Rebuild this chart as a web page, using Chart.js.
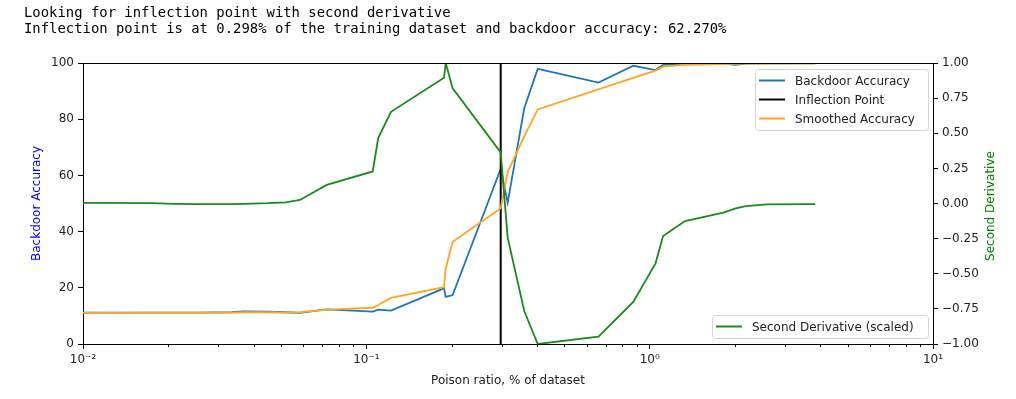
<!DOCTYPE html>
<html>
<head>
<meta charset="utf-8">
<script src="https://cdn.jsdelivr.net/npm/chart.js@4/dist/chart.umd.min.js"></script>
<style>
  body { margin: 0; background: #fff; }
  #wrap { position: relative; width: 1016px; height: 399px; }
  #log { position: absolute; left: 24px; top: 4px; margin: 0; font: 13.9px/16px 'DejaVu Sans Mono', monospace; color: #000; white-space: pre; }
  #chart { position: absolute; left: 0; top: 0; }
</style>
</head>
<body>
<div id="wrap">
  <canvas id="chart" width="1016" height="399"></canvas>
  <pre id="log">Looking for inflection point with second derivative
Inflection point is at 0.298% of the training dataset and backdoor accuracy: 62.270%</pre>
</div>
<script>
const poisonRatio = [0.01, 0.0125, 0.0175, 0.021, 0.025, 0.0335, 0.037, 0.045, 0.052, 0.0583, 0.0725, 0.1053, 0.1102, 0.1222, 0.188, 0.1906, 0.2017, 0.298, 0.3154, 0.3609, 0.4026, 0.6597, 0.8753, 1.049, 1.115, 1.333, 1.819, 2.012, 2.182, 2.588, 3.842];
const backdoorAcc = [11.2, 11.2, 11.2, 11.2, 11.2, 11.3, 11.6, 11.5, 11.3, 11.1, 12.3, 11.5, 12.2, 11.9, 19.8, 16.8, 17.4, 62.27, 50.3, 83.9, 97.9, 93.0, 99.0, 97.5, 99.3, 99.8, 99.8, 99.3, 99.8, 99.9, 99.9];
const smoothedAcc = [11.2, 11.1, 11.2, 11.2, 11.2, 11.2, 11.3, 11.3, 11.2, 11.3, 12.2, 12.9, 13.9, 16.4, 20.2, 26.8, 36.4, 48.3, 61.2, 73.9, 83.5, 90.6, 94.7, 97.3, 98.7, 99.3, 99.6, 99.7, 99.75, 99.8, 99.9];
const secondDeriv = [0.005, 0.004, 0.002, -0.002, -0.004, -0.004, -0.002, 0.002, 0.008, 0.025, 0.132, 0.228, 0.468, 0.653, 0.895, 1.0, 0.82, 0.364, -0.243, -0.765, -1.0, -0.948, -0.70, -0.426, -0.231, -0.125, -0.065, -0.034, -0.018, -0.006, -0.004];
const inflectionX = 0.298;
const accRange = [0, 100];
const xTickValues = [0.01, 0.1, 1, 10];
const xTickLabels = ['10\u207B\u00B2', '10\u207B\u00B9', '10\u2070', '10\u00B9'];

const FONT = 'DejaVu Sans';
const pts = ys => poisonRatio.map((x, i) => ({ x: x, y: ys[i] }));

// matplotlib-style frame, minor log ticks, right axis title and the two legends
const extras = {
  id: 'extras',
  afterDraw(chart) {
    const c = chart.ctx, a = chart.chartArea, xs = chart.scales.x;
    c.save();
    c.strokeStyle = '#000';
    c.lineWidth = 1;
    c.beginPath();
    c.moveTo(a.left, a.top + 0.5);
    c.lineTo(a.right, a.top + 0.5);
    c.stroke();
    for (let n = -2; n < 1; n++) {
      for (let k = 2; k < 10; k++) {
        const px = Math.round(xs.getPixelForValue(k * Math.pow(10, n))) + 0.5;
        c.beginPath();
        c.moveTo(px, a.bottom);
        c.lineTo(px, a.bottom + 3);
        c.stroke();
      }
    }
    c.translate(991, 206);
    c.rotate(-Math.PI / 2);
    c.fillStyle = 'green';
    c.font = '12px ' + FONT;
    c.textAlign = 'center';
    c.textBaseline = 'middle';
    c.fillText('Second Derivative', 0, 0);
    c.restore();

    const ds = chart.data.datasets;
    drawLegend(c, 755, 69, 173, 61, [ds[0], ds[1], ds[2]]);
    drawLegend(c, 712, 315, 216, 23, [ds[3]]);
  }
};

function drawLegend(c, x, y, w, h, items) {
  c.save();
  c.fillStyle = 'rgba(255,255,255,0.8)';
  c.strokeStyle = '#d5d5d5';
  c.lineWidth = 1;
  c.beginPath();
  c.roundRect(x + 0.5, y + 0.5, w, h, 3);
  c.fill();
  c.stroke();
  c.font = '12px ' + FONT;
  c.textBaseline = 'middle';
  items.forEach((d, i) => {
    const cy = y + 11.5 + i * 19;
    c.strokeStyle = d.borderColor;
    c.lineWidth = 2;
    c.beginPath();
    c.moveTo(x + 4, cy);
    c.lineTo(x + 30, cy);
    c.stroke();
    c.fillStyle = '#222';
    c.fillText(d.label, x + 40, cy + 1);
  });
  c.restore();
}

new Chart(document.getElementById('chart'), {
  type: 'line',
  data: {
    datasets: [
      { label: 'Backdoor Accuracy', data: pts(backdoorAcc), borderColor: '#1f77b4', borderWidth: 1.8, pointRadius: 0, yAxisID: 'y', order: 3 },
      { label: 'Inflection Point', data: [{ x: inflectionX, y: accRange[0] }, { x: inflectionX, y: accRange[1] }], borderColor: '#000', borderWidth: 2, pointRadius: 0, yAxisID: 'y', order: 2 },
      { label: 'Smoothed Accuracy', data: pts(smoothedAcc), borderColor: '#ffa520', borderWidth: 1.8, pointRadius: 0, yAxisID: 'y', order: 1 },
      { label: 'Second Derivative (scaled)', data: pts(secondDeriv), borderColor: '#1a8a1a', borderWidth: 1.8, pointRadius: 0, yAxisID: 'y2', order: 0 }
    ]
  },
  options: {
    responsive: false, animation: false,
    layout: { padding: { top: 63, left: 0, right: 0, bottom: 0 } },
    plugins: { legend: { display: false }, tooltip: { enabled: false } },
    scales: {
      x: {
        type: 'logarithmic', min: 0.01, max: 10, position: 'bottom',
        afterFit: s => { s.height = 55; },
        afterBuildTicks: s => { s.ticks = xTickValues.map(v => ({ value: v, major: true })); },
        grid: { drawOnChartArea: false, drawTicks: true, tickLength: 5, tickColor: '#000' },
        border: { display: true, color: '#000', width: 1 },
        ticks: { autoSkip: false, maxRotation: 0, padding: 4, color: '#222', font: { family: FONT, size: 12 },
          callback: v => xTickLabels[xTickValues.indexOf(v)] || '' },
        title: { display: true, text: 'Poison ratio, % of dataset', color: '#222', font: { family: FONT, size: 12 }, padding: { top: 0, bottom: 11 } }
      },
      y: {
        position: 'left', min: accRange[0], max: accRange[1],
        afterFit: s => { s.width = 83; },
        grid: { drawOnChartArea: false, drawTicks: true, tickLength: 5, tickColor: '#000' },
        border: { display: true, color: '#000', width: 1 },
        ticks: { stepSize: 20, padding: 4, color: '#222', font: { family: FONT, size: 12 } },
        title: { display: true, text: 'Backdoor Accuracy', color: 'blue', font: { family: FONT, size: 12 }, padding: { top: 30, bottom: 0 } }
      },
      y2: {
        position: 'right', min: -1, max: 1,
        afterFit: s => { s.width = 83; },
        grid: { drawOnChartArea: false, drawTicks: true, tickLength: 5, tickColor: '#000' },
        border: { display: true, color: '#000', width: 1 },
        ticks: { stepSize: 0.25, padding: 4, color: '#222', font: { family: FONT, size: 12 },
          callback: v => v.toFixed(2).replace('-', '\u2212') }
      }
    }
  },
  plugins: [extras]
});
</script>
</body>
</html>
